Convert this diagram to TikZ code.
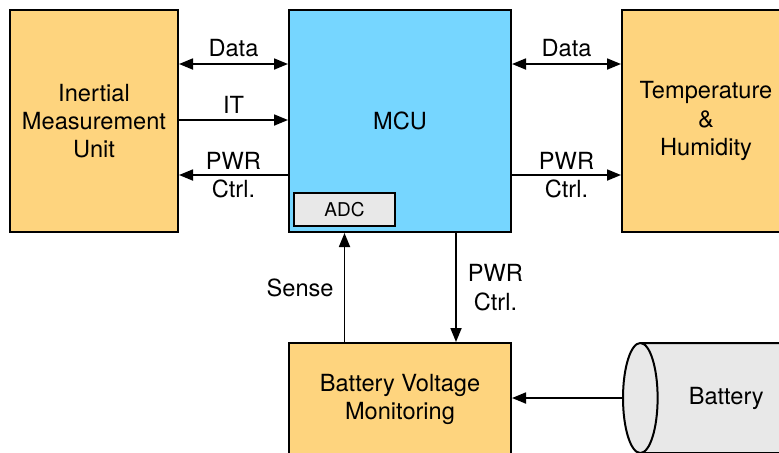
\documentclass[tikz,border=0pt]{standalone}
\usepackage{fontspec}
\setmainfont{TeX Gyre Heros}
\usetikzlibrary{shapes.geometric,positioning,arrows.meta,calc}
\definecolor{blockorange}{RGB}{254,212,126}
\definecolor{mcublue}{RGB}{118,214,255}
\definecolor{adcgray}{RGB}{232,232,232}

\begin{document}
\begin{tikzpicture}[
    x=0.5pt, y=-0.5pt,
    >={Triangle[length=7pt,width=5.5pt]},
    every node/.style={font=\fontsize{11.8}{14.2}\selectfont},
    blk/.style ={
        rectangle,
        draw=black,
        line width=1pt,
        align=center,
        minimum width=84pt,
        minimum height=111pt
    },
    lbl/.style ={
        align=center,
        inner sep=1pt
    },
    link/.style ={line width=0.9pt}
    ]
    \useasboundingbox (0,0) rectangle (779,452);

    % blocks
    \node[blk,fill=blockorange] (imu) at (94,121) {Inertial\\Measurement\\Unit};
    \node[blk,fill=mcublue,minimum width=111pt] (mcu) at (400,121) {MCU};
    \node[blk,fill=blockorange] (th) at (706,121) {Temperature\\\&\\Humidity};
    \node[blk,fill=blockorange,minimum width=111pt,minimum height=56.5pt] (bvm) at (400,399.5) {Battery Voltage\\Monitoring};
    \node[draw,fill=adcgray,line width=0.75pt,minimum width=50.5pt,minimum height=16.5pt,inner sep=0pt,
          font=\fontsize{9.5}{11}\selectfont] (adc) at (344.5,209.5) {ADC};
    \node[cylinder,shape border rotate=180,aspect=0.97,draw,fill=adcgray,line width=1pt,anchor=west,
          minimum width=55pt,minimum height=90pt] (batt) at (622,398) {Battery};

    % side links
    \foreach \src/\dst/\tip/\dy/\where/\txt in {imu/mcu/<->/28.5/above/Data, imu/mcu/->/0.5/above/IT,
                                imu/mcu/<-/-27/midway/{PWR\\Ctrl.}, mcu/th/<->/28.5/above/Data,
                                mcu/th/->/-27/midway/{PWR\\Ctrl.}}
        \draw[link,\tip] ([yshift=\dy pt]\src.east) -- node[lbl,\where,inner sep=3pt] {\txt} ([yshift=\dy pt]\dst.west);

    % battery side
    \draw[link,->] (bvm.north -| adc) -- node[lbl,left=4pt] {Sense} (mcu.south -| adc);
    \draw[link,->] ([xshift=28pt]mcu.south) -- node[lbl,right=4.5pt] {PWR\\Ctrl.} ([xshift=28pt]bvm.north);
    \draw[link,->] (batt.west) -- (batt.west -| bvm.east);
\end{tikzpicture}
\end{document}
